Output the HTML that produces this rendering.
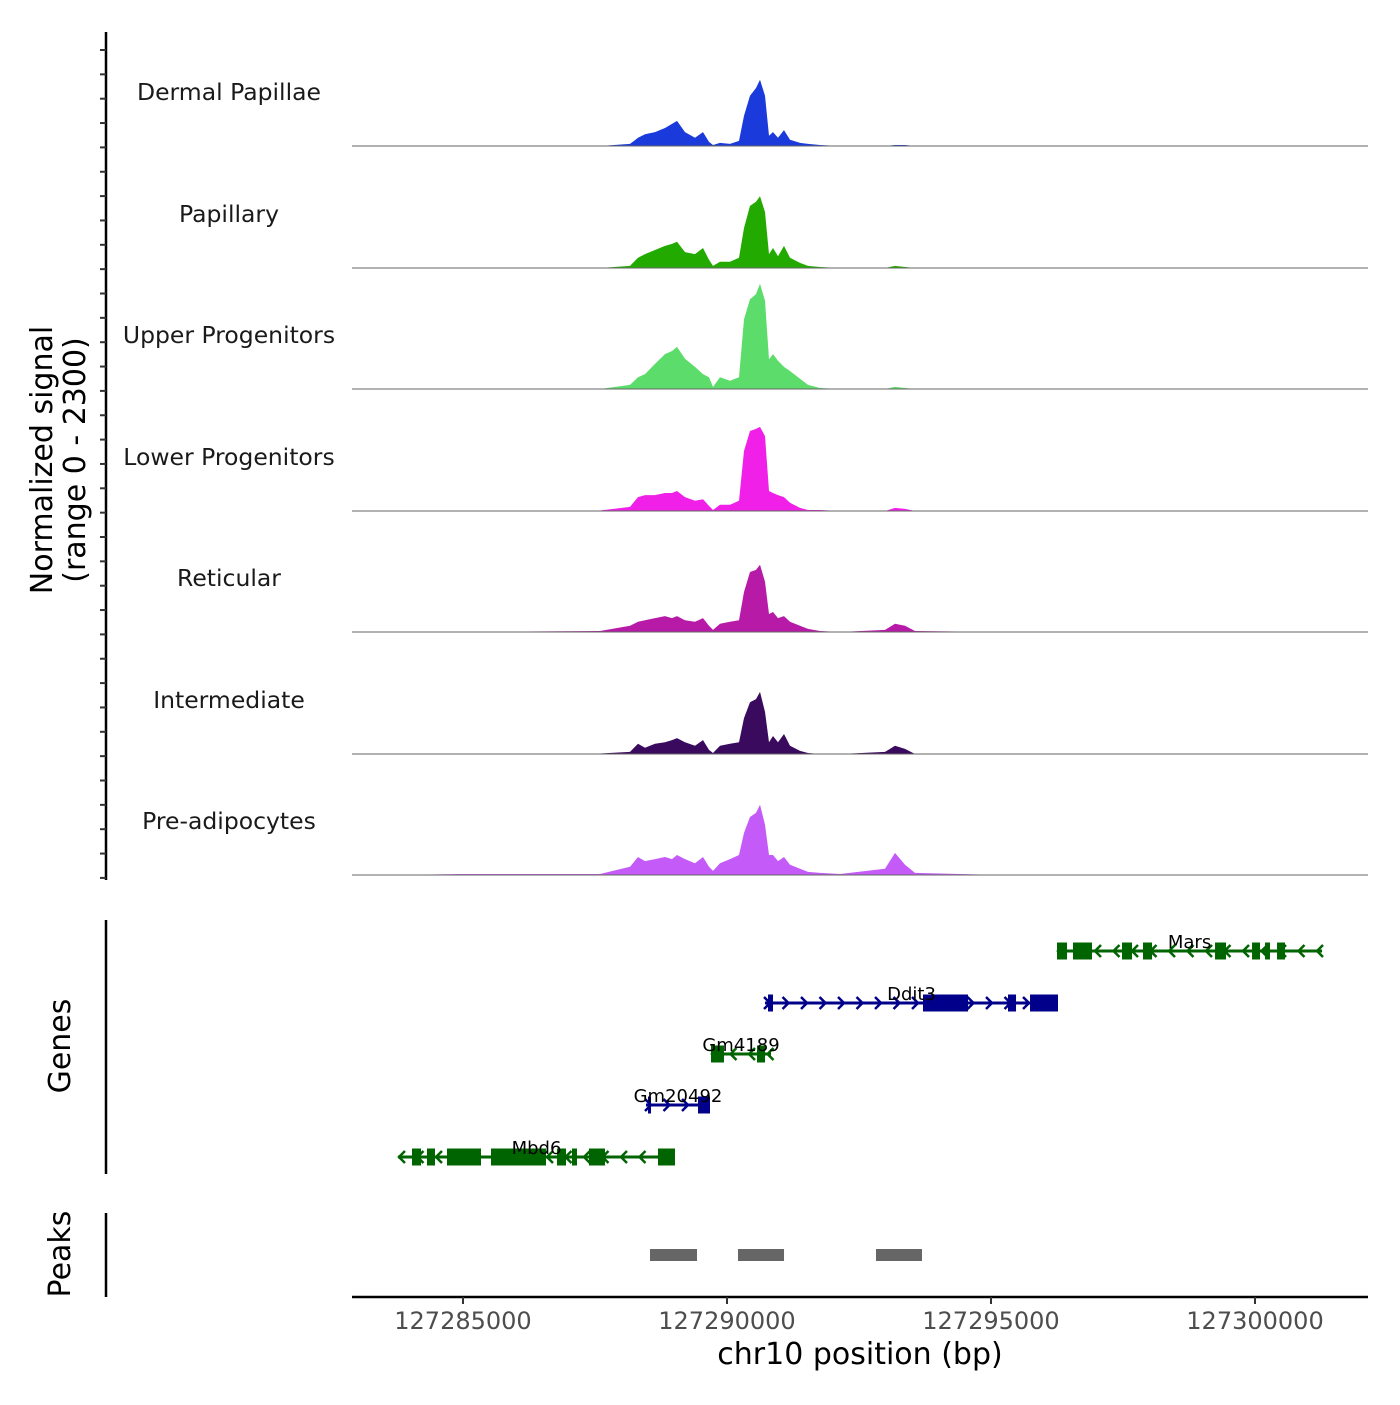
<!DOCTYPE html>
<html><head><meta charset="utf-8"><style>
body{margin:0;background:#fff;}
svg text{font-family:"DejaVu Sans","Liberation Sans",sans-serif;}
</style></head><body>
<svg id="chart" width="1400" height="1400" viewBox="0 0 1400 1400" xmlns="http://www.w3.org/2000/svg">
<rect width="1400" height="1400" fill="#fff"/>
<g id="tracks"></g>
<g id="genes"></g>
<g id="peaks"></g>
<g id="axes"></g>
</svg>
<script>
const positions=[127282898,127283807,127284943,127287595,127288163,127288314,127288447,127288636,127288826,127288958,127289053,127289205,127289394,127289545,127289659,127289735,127289867,127290057,127290227,127290322,127290436,127290549,127290625,127290720,127290795,127290871,127290966,127291080,127291193,127291383,127291534,127291761,127292140,127292992,127293182,127293371,127293561,127295170,127297159,127298958,127302140];
const trackNames=["Dermal Papillae","Papillary","Upper Progenitors","Lower Progenitors","Reticular","Intermediate","Pre-adipocytes"];
const trackColors=["#1a3adc","#22aa00","#5cdc6a","#f020e8","#b81aa8","#3a0a5e","#c45af8"];
const dermalValues=[0,0,0,0,40,160,230,270,350,430,490,270,160,270,80,20,60,40,100,590,980,1130,1290,980,200,270,160,310,120,60,40,20,0,0,20,20,0,0,0,0,0];
const papillaryValues=[0,0,0,0,40,200,270,350,430,470,510,310,270,390,160,40,120,120,200,780,1210,1290,1400,1090,270,390,230,430,200,100,40,20,0,0,40,20,0,0,0,0,0];
const upperValues=[0,0,0,0,80,230,290,490,680,740,820,590,430,290,230,40,230,160,230,1360,1750,1850,2050,1720,580,680,550,430,350,200,80,20,0,0,40,20,0,0,0,0,0];
const lowerValues=[0,0,0,10,80,270,310,310,350,350,390,270,200,230,100,20,120,120,200,1170,1560,1600,1640,1460,390,350,310,270,160,60,20,20,0,0,60,40,0,0,0,0,0];
const reticularValues=[0,0,0,20,120,200,230,270,310,270,310,230,200,270,120,40,160,200,230,780,1170,1210,1310,980,350,390,270,310,200,120,60,20,0,40,160,120,20,0,0,0,0];
const intermediateValues=[0,0,0,10,40,200,120,200,230,270,310,230,160,270,80,20,160,200,230,700,1010,1070,1210,820,230,350,230,390,160,60,20,0,0,40,160,100,0,0,0,0,0];
const preadipValues=[0,0,20,20,160,350,270,310,350,310,390,310,230,350,160,80,230,310,390,820,1130,1210,1370,980,390,390,270,350,200,120,60,40,20,120,430,200,40,0,0,0,0];
const seriesValues=[dermalValues,papillaryValues,upperValues,lowerValues,reticularValues,intermediateValues,preadipValues];
const xTicks=[127285000,127290000,127295000,127300000];
const geneNames=["Mars","Ddit3","Gm4189","Gm20492","Mbd6"];
const geneStrands=["-","+","-","+","-"];
const geneStarts=[127296250,127290720,127289697,127288466,127283769];
const geneEnds=[127301270,127296269,127290834,127289678,127289015];
const geneExons=[
 [[127296250,127296440],[127296553,127296913],[127297481,127297671],[127297879,127298050],[127299243,127299451],[127299944,127300095],[127300190,127300284],[127300417,127300568]],
 [[127290777,127290871],[127293712,127294565],[127295322,127295474],[127295739,127296269]],
 [[127289697,127289943],[127290568,127290720]],
 [[127288504,127288561],[127289451,127289678]],
 [[127284034,127284205],[127284318,127284470],[127284697,127285341],[127285530,127286572],[127286780,127286951],[127287064,127287159],[127287386,127287689],[127288693,127289015]]
];
const peakStarts=[127288542,127290208,127292822];
const peakEnds=[127289432,127291080,127293693];

const NS="http://www.w3.org/2000/svg";
const X0=352,X1=1368,BP0=127282898,BP1=127302140;
function xs(bp){return X0+(bp-BP0)/(BP1-BP0)*(X1-X0);}
const baselines=[146,268,389,511,632,754,875];
const YMAX=2300,TH=118;
function ys(v,i){return baselines[i]-v/YMAX*TH;}
function mk(tag,attrs,parent){const e=document.createElementNS(NS,tag);for(const k in attrs)e.setAttribute(k,attrs[k]);parent.appendChild(e);return e;}

const tg=document.getElementById('tracks');
seriesValues.forEach((vals,i)=>{
  let d=`M${xs(positions[0])},${baselines[i]}`;
  vals.forEach((v,j)=>{d+=` L${xs(positions[j]).toFixed(1)},${ys(v,i).toFixed(1)}`;});
  d+=` L${xs(positions[positions.length-1])},${baselines[i]} Z`;
  const p=mk('path',{d:d,fill:trackColors[i]},tg);
  
  
  const l=mk('line',{x1:X0,x2:X1,y1:baselines[i],y2:baselines[i],stroke:'#666','stroke-width':1},tg);
  
  
  const t=mk('text',{x:229,y:baselines[i]-46,'text-anchor':'middle','font-size':23.5,fill:'#1a1a1a'},tg);
  t.textContent=trackNames[i];
  
  
});

const gg=document.getElementById('genes');
const geneY=[951,1003,1054,1105,1157];
const geneCols=["#006400","#00008b","#006400","#00008b","#006400"];
geneNames.forEach((n,i)=>{
  const y=geneY[i],c=geneCols[i];
  const g=mk('g',{},gg);
  
  
  const a=xs(geneStarts[i]),b=xs(geneEnds[i]);
  mk('line',{x1:a,x2:b,y1:y,y2:y,stroke:c,'stroke-width':3},g);
  for(let x=a+3;x<=b;x+=18.5){
    const dx=geneStrands[i]=='+'?1:-1;
    mk('polyline',{points:`${x-4*dx},${y-6} ${x+2*dx},${y} ${x-4*dx},${y+6}`,fill:'none',stroke:c,'stroke-width':2.5},g);
  }
  geneExons[i].forEach(e=>{mk('rect',{x:xs(e[0]),y:y-8.5,width:Math.max(3,xs(e[1])-xs(e[0])),height:17,fill:c},g);});
  const t=mk('text',{x:(a+b)/2,y:y-3,'text-anchor':'middle','font-size':18,fill:'#000'},g);
  t.textContent=n;
});

const pg=document.getElementById('peaks');
peakStarts.forEach((s,i)=>{
  const r=mk('rect',{x:xs(s),y:1249,width:xs(peakEnds[i])-xs(s),height:12,fill:'#666'},pg);
  
  
});

const ag=document.getElementById('axes');
mk('line',{x1:106,x2:106,y1:32,y2:880,stroke:'#000','stroke-width':2.5},ag);
for(let y=50;y<=878;y+=24.35){mk('line',{x1:100,x2:106,y1:y,y2:y,stroke:'#333','stroke-width':2},ag);}
mk('line',{x1:106,x2:106,y1:920,y2:1174,stroke:'#000','stroke-width':2.5},ag);
mk('line',{x1:106,x2:106,y1:1213,y2:1297,stroke:'#000','stroke-width':2.5},ag);
mk('line',{x1:352,x2:1368,y1:1297,y2:1297,stroke:'#000','stroke-width':2.5},ag);
xTicks.forEach(t=>{
  mk('line',{x1:xs(t),x2:xs(t),y1:1297,y2:1304,stroke:'#333','stroke-width':2},ag);
  const tx=mk('text',{x:xs(t),y:1329,'text-anchor':'middle','font-size':24,fill:'#4d4d4d'},ag);
  tx.textContent=t;
  
  
});
</script>
<svg style="position:absolute;left:0;top:0" width="1400" height="1400">
<text x="860" y="1364" text-anchor="middle" font-size="30" fill="#000" font-family="DejaVu Sans, Liberation Sans, sans-serif">chr10 position (bp)</text>
<text transform="translate(52,460) rotate(-90)" text-anchor="middle" font-size="30" fill="#000" font-family="DejaVu Sans, Liberation Sans, sans-serif">Normalized signal</text>
<text transform="translate(85,460) rotate(-90)" text-anchor="middle" font-size="30" fill="#000" font-family="DejaVu Sans, Liberation Sans, sans-serif">(range 0 - 2300)</text>
<text transform="translate(70,1046) rotate(-90)" text-anchor="middle" font-size="30" fill="#000" font-family="DejaVu Sans, Liberation Sans, sans-serif">Genes</text>
<text transform="translate(70,1254) rotate(-90)" text-anchor="middle" font-size="30" fill="#000" font-family="DejaVu Sans, Liberation Sans, sans-serif">Peaks</text>
</svg>
</body></html>
